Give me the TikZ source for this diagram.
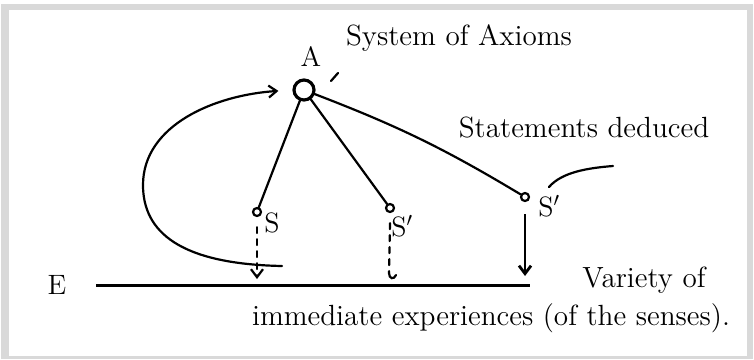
\documentclass[tikz,border=0pt]{standalone}
\usetikzlibrary{arrows.meta,positioning}

\tikzset{
  txt/.style={font=\fontsize{14.6}{17}\selectfont, inner sep=0pt},
  lbl/.style={font=\fontsize{14}{16}\selectfont, inner sep=0pt},
  axnode/.style={circle, draw, line width=1.6pt, minimum size=10pt, inner sep=0pt},
  stnode/.style={circle, draw, line width=1.1pt, minimum size=4pt, inner sep=0pt},
  ink/.style={line width=1.1pt, line cap=round},
  barb/.style={-{Straight Barb[length=4pt,width=6pt]}},
}

\begin{document}
\begin{tikzpicture}[x=0.5pt,y=-0.5pt]
  % frame
  \fill[gray!30] (1,4) rectangle (753,359);
  \fill[white] (9,10) rectangle (747,356);
  \useasboundingbox (0,0) rectangle (754,359);

  % axioms and deduced statements
  \node[axnode] (A) at (304,90) {};
  \node[lbl] (Alab) at (311,57) {A};
  \node[stnode] (S1) at (257,212) {};
  \node[stnode] (S2) at (390,208) {};
  \node[stnode] (S3) at (525,197) {};
  \node[lbl, anchor=west] (S1lab) at (264,223) {S};
  \node[lbl, anchor=west] (S2lab) at (391,226) {S$'$};
  \node[lbl, anchor=west] (S3lab) at (538,206) {S$'$};

  \draw[ink] (A) -- (S1);
  \draw[ink] (A) -- (S2);
  \draw[ink] (A) to[bend left=5] (S3);
  \draw[ink] (331,81) -- (338,73);

  % texts
  \node[txt] (axioms) at (459,38) {System of Axioms};
  \node[txt] (deduced) at (584,128) {Statements deduced};
  \node[txt] (variety) at (644,280) {Variety of};
  \node[txt] (senses) at (491,318) {immediate experiences (of the senses).};
  \draw[ink] (549,187) .. controls (562,172) and (588,168) .. (613,166);

  % experiences line
  \node[lbl] (E) at (57,285) {E};
  \coordinate (e0) at (96,285);
  \coordinate (e1) at (530,285);
  \draw[line width=1.5pt] (e0) -- (e1);

  % back to the senses
  \coordinate (d1) at (257,279);
  \coordinate (d2) at (389,273);
  \coordinate (d3) at (525,276);
  \draw[ink, dash pattern=on 3pt off 3pt, barb] ([yshift=-5pt]S1.south) -- (d1);
  \draw[ink, dash pattern=on 3pt off 3pt] ([yshift=-5pt]S2.south) -- (d2);
  \draw[ink] (d2) .. controls (389,279) and (394,280) .. (396,275);
  \draw[line width=1.4pt, barb] ([yshift=-6pt]S3.south) -- (d3);

  % loop back to the axioms
  \coordinate (lp) at (282,266);
  \coordinate (lw) at (143,185);
  \draw[ink, barb, shorten >=7pt] (lp) .. controls (180,264) and (143,232) .. (lw)
    .. controls (143,125) and (215,95) .. (A.west);
\end{tikzpicture}
\end{document}
